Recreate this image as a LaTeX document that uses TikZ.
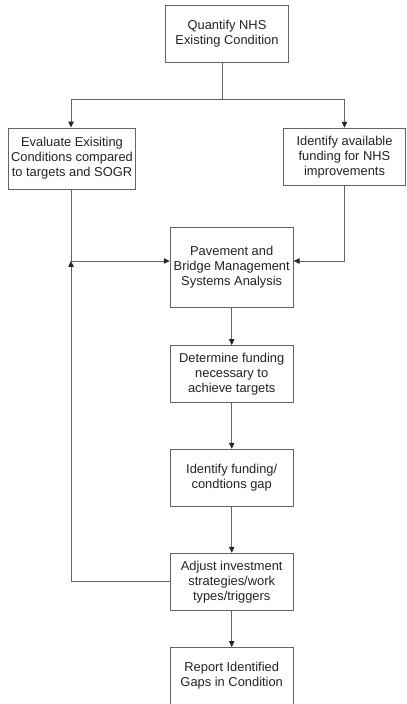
\documentclass[tikz,border=0pt]{standalone}
\usepackage{fontspec}
\setmainfont{Liberation Sans}
\usepackage{xcolor}
\usepackage{tikz}
\usetikzlibrary{positioning,arrows.meta}
\definecolor{linegray}{RGB}{100,100,100}
\definecolor{textgray}{RGB}{35,35,35}

\begin{document}
\begin{tikzpicture}[x=0.03cm, y=-0.03cm,
    stepbox/.style={draw=linegray, line width=0.8pt, fill=white, align=center,
                    text=textgray, inner sep=1pt, minimum width=123*0.03cm,
                    font=\fontsize{11}{12.8}\selectfont},
    link/.style={draw=linegray, line width=0.6pt},
    arr/.style={link, -{Triangle[length=5pt,width=4.6pt,color=black!85]}}]
  \useasboundingbox (0,0) rectangle (406,704);
  % top row
  \node[stepbox, minimum height=57*0.03cm] (quant) at (227,33.8)
       {Quantify NHS\\Existing Condition};
  % second row
  \node[stepbox, minimum width=127*0.03cm, minimum height=61*0.03cm] (eval) at (72,158.5)
       {Evaluate Exisiting\\Conditions compared\\to targets and SOGR};
  \node[stepbox, minimum width=122*0.03cm, minimum height=57*0.03cm] (fund) at (344.5,156.7)
       {Identify available\\funding for NHS\\improvements};
  % centre column
  \node[stepbox, minimum height=80*0.03cm] (pbms) at (231.7,267.5)
       {Pavement and\\Bridge Management\\Systems Analysis};
  \node[stepbox, minimum height=57*0.03cm] (need) at (231.7,374)
       {Determine funding\\necessary to\\achieve targets};
  \node[stepbox, minimum height=57*0.03cm] (gap) at (231.7,477.7)
       {Identify funding/\\condtions gap};
  \node[stepbox, minimum height=57*0.03cm] (adj) at (231.7,581.7)
       {Adjust investment\\strategies/work\\types/triggers};
  \node[stepbox, minimum height=57*0.03cm] (rep) at (231.7,676)
       {Report Identified\\Gaps in Condition};
  % connectors
  \coordinate (split) at (222,99.7);
  \coordinate (junc) at (71,261);
  \draw[link] ([xshift=-5*0.03cm]quant.south) -- (split);
  \draw[arr] (split) -| (eval.north -| junc);
  \draw[arr] (split) -| (fund.north);
  \draw[link] (eval.south -| junc) -- (junc);
  \draw[arr] (junc) -- (junc -| pbms.west);
  \draw[arr] (fund.south) |- (junc -| pbms.east);
  \draw[arr] (adj.west) -| (junc);
  \draw[arr] (pbms) -- (need);
  \draw[arr] (need) -- (gap);
  \draw[arr] (gap) -- (adj);
  \draw[arr] (adj) -- (rep);
\end{tikzpicture}
\end{document}
